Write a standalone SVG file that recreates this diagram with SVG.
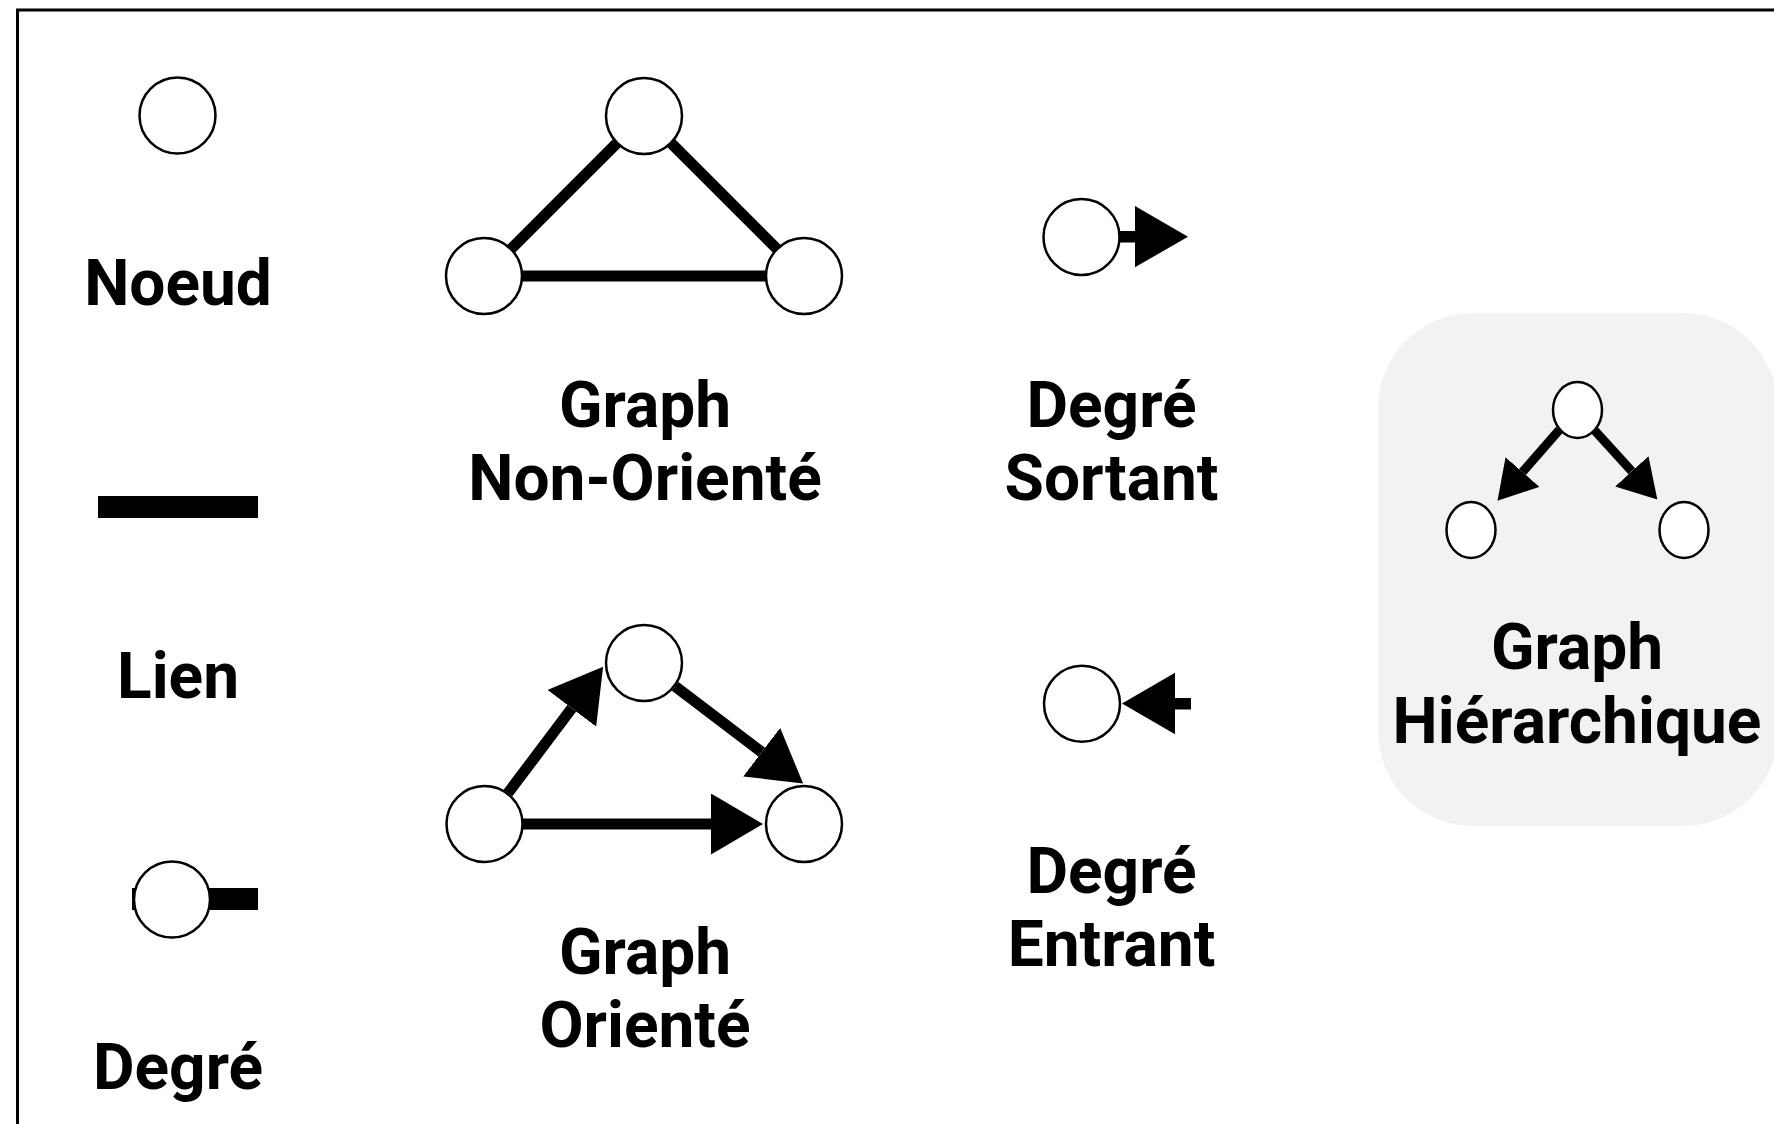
<svg xmlns="http://www.w3.org/2000/svg" width="1774" height="1124" viewBox="0 0 1774 1124">
<style>
.node{fill:#fff;stroke:#000;stroke-width:2.5}
.edge{stroke:#000;stroke-width:11;fill:none}
.edge-s{stroke:#000;stroke-width:9;fill:none}
.lbl{font-family:Roboto,"Liberation Sans",sans-serif;font-weight:bold;font-size:64px;fill:#000;text-anchor:middle}
</style>
<defs>
<marker id="head" markerUnits="userSpaceOnUse" viewBox="0 0 52 61" refX="0" refY="30.5" markerWidth="52" markerHeight="61" orient="auto">
<path d="M0,0 L52,30.5 L0,61 Z" fill="#000"/>
</marker>
<marker id="head-s" markerUnits="userSpaceOnUse" viewBox="0 0 38 45" refX="0" refY="22.5" markerWidth="38" markerHeight="45" orient="auto">
<path d="M0,0 L38,22.5 L0,45 Z" fill="#000"/>
</marker>
</defs>
<rect x="0" y="0" width="1774" height="1124" fill="#fff"/>
<rect id="frame" x="17.5" y="10" width="1800" height="1160" fill="none" stroke="#000" stroke-width="3"/>
<rect id="hier-bg" x="1378" y="313" width="400" height="513" rx="95" ry="95" fill="#f2f2f2"/>

<g id="connectors">
<line class="edge" x1="484" y1="276" x2="644" y2="116"/>
<line class="edge" x1="644" y1="116" x2="804" y2="276"/>
<line class="edge" x1="484" y1="276" x2="804" y2="276"/>
<line class="edge" x1="508" y1="793" x2="571.8" y2="708.3" marker-end="url(#head)"/>
<line class="edge" x1="675.2" y1="686.4" x2="761.7" y2="752.1" marker-end="url(#head)"/>
<line class="edge" x1="522" y1="824" x2="711" y2="824" marker-end="url(#head)"/>
<line class="edge-s" x1="1559.4" y1="429.7" x2="1522.5" y2="472" marker-end="url(#head-s)"/>
<line class="edge-s" x1="1594.7" y1="430.4" x2="1631.8" y2="471.3" marker-end="url(#head-s)"/>
</g>

<g id="noeud">
<circle class="node" cx="177.5" cy="115.5" r="38"/>
<text class="lbl" x="178" y="305">Noeud</text>
</g>

<g id="lien">
<rect x="98" y="496" width="160" height="22" fill="#000"/>
<text class="lbl" x="178" y="698">Lien</text>
</g>

<g id="degre">
<rect x="132" y="888" width="126" height="22" fill="#000"/>
<circle class="node" cx="172" cy="899.5" r="38"/>
<text class="lbl" x="178" y="1089">Degré</text>
</g>

<g id="graph-non-oriente">
<circle class="node" cx="644" cy="116" r="38"/>
<circle class="node" cx="484" cy="276" r="38"/>
<circle class="node" cx="804" cy="276" r="38"/>
<text class="lbl" x="645" y="427">Graph</text>
<text class="lbl" x="645" y="500">Non-Orienté</text>
</g>

<g id="graph-oriente">
<circle class="node" cx="644" cy="663" r="38"/>
<circle class="node" cx="484.5" cy="824" r="38"/>
<circle class="node" cx="804" cy="824" r="38"/>
<text class="lbl" x="645" y="974">Graph</text>
<text class="lbl" x="645" y="1047">Orienté</text>
</g>

<g id="degre-sortant">
<rect x="1118" y="231" width="18" height="11.5" fill="#000"/>
<circle class="node" cx="1081.5" cy="237" r="38"/>
<path d="M1135,206 L1188,236.7 L1135,267.3 Z" fill="#000"/>
<text class="lbl" x="1111.5" y="427">Degré</text>
<text class="lbl" x="1111.5" y="500">Sortant</text>
</g>

<g id="degre-entrant">
<rect x="1174" y="698" width="17" height="11.5" fill="#000"/>
<path d="M1122,703.5 L1175,672.7 L1175,734.3 Z" fill="#000"/>
<circle class="node" cx="1082" cy="703.7" r="38"/>
<text class="lbl" x="1111.5" y="893">Degré</text>
<text class="lbl" x="1111.5" y="966">Entrant</text>
</g>

<g id="graph-hierarchique">
<ellipse class="node" cx="1577.5" cy="410" rx="24.5" ry="28"/>
<ellipse class="node" cx="1471" cy="530" rx="24.5" ry="28"/>
<ellipse class="node" cx="1684" cy="530" rx="24.5" ry="28"/>
<text class="lbl" x="1577" y="669">Graph</text>
<text class="lbl" x="1577" y="743">Hiérarchique</text>
</g>
</svg>
